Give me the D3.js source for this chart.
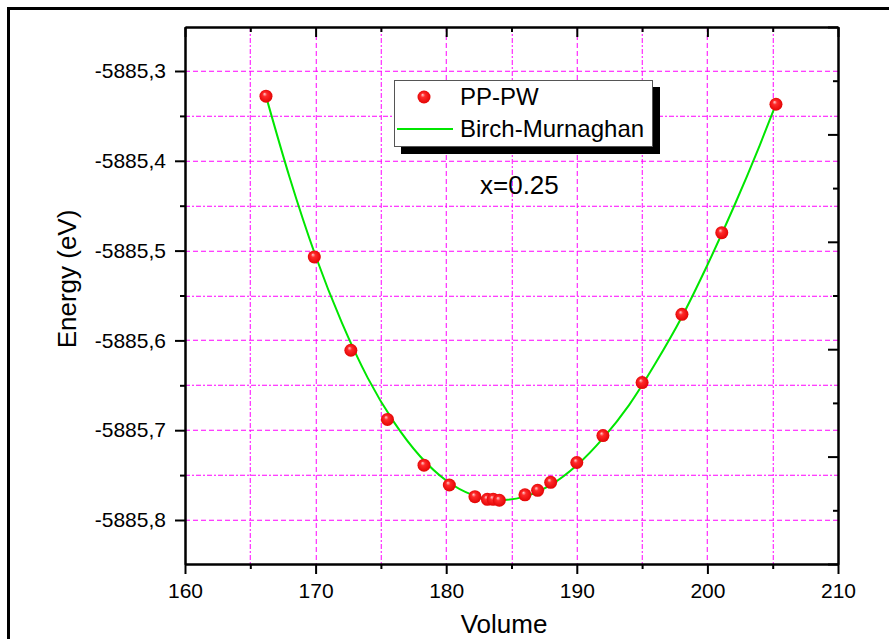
<!DOCTYPE html>
<html>
<head>
<meta charset="utf-8">
<script src="https://cdn.jsdelivr.net/npm/d3@7"></script>
<style>
  body { margin: 0; background: #fff; }
  svg text { font-family: "Liberation Sans", Arial, sans-serif; fill: #000; }
</style>
</head>
<body>
<div id="chart"></div>
<script>
// PP-PW points
var volumes = [166.2, 169.9, 172.7, 175.5, 178.3, 180.24, 182.2, 183.15, 183.6, 184.07, 186.03, 187.0, 188.0, 190.0, 192.0, 195.0, 198.05, 201.1, 205.25];
var energies = [-5885.328, -5885.507, -5885.611, -5885.688, -5885.739, -5885.761, -5885.774, -5885.777, -5885.777, -5885.778, -5885.772, -5885.767, -5885.758, -5885.736, -5885.706, -5885.647, -5885.571, -5885.480, -5885.337];

// Birch-Murnaghan fitted curve
var fitVolumes = [166.2, 168, 170, 172, 174, 176, 178, 180, 182, 184, 186, 188, 190, 192, 194, 196, 198, 200, 202, 204, 205.25];
var fitEnergies = [-5885.328, -5885.418, -5885.506, -5885.580, -5885.642, -5885.691, -5885.729, -5885.756, -5885.772, -5885.778, -5885.774, -5885.761, -5885.739, -5885.709, -5885.672, -5885.626, -5885.575, -5885.516, -5885.452, -5885.383, -5885.337];

var xTicks = [160, 170, 180, 190, 200, 210];
var xMinorTicks = [165, 175, 185, 195, 205];
var yTicks = [-5885.3, -5885.4, -5885.5, -5885.6, -5885.7, -5885.8];
var yMinorTicks = [-5885.35, -5885.45, -5885.55, -5885.65, -5885.75];
var rightTicks = [0, 1, 2, 3, 4, 5];
var rightMinorTicks = [0.5, 1.5, 2.5, 3.5, 4.5];

var seriesNames = ["PP-PW", "Birch-Murnaghan"];
var note = "x=0.25";

var W = 889, H = 639;
var margin = {left: 185, right: 838, top: 27, bottom: 564};

var locale = d3.formatLocale({decimal: ",", thousands: "", grouping: [3], currency: ["", ""], minus: "-"});
var fmtY = locale.format(".1f");

var svg = d3.select("#chart").append("svg")
  .attr("width", W)
  .attr("height", H);

// outer frame
svg.append("rect")
  .attr("x", 8.5).attr("y", 8.5)
  .attr("width", 920).attr("height", 700)
  .attr("fill", "none")
  .attr("stroke", "#000")
  .attr("stroke-width", 3);

var x = d3.scaleLinear().domain([160, 210]).range([margin.left, margin.right]);
var y = d3.scaleLinear().domain([-5885.849, -5885.251]).range([margin.bottom, margin.top]);
var yR = d3.scaleLinear().domain([0, 5]).range([margin.bottom, margin.top]);

// small nudge keeps the 1px magenta lines from landing exactly on a pixel centre
function nudge(v) { return Math.round(v) + 0.25; }

// grid: dashed at major ticks, dash-dot at minor ticks
function gridLines(vals, vertical, dash) {
  svg.append("g").selectAll("line").data(vals).enter().append("line")
    .attr("x1", function(d) { return vertical ? nudge(x(d)) : margin.left; })
    .attr("x2", function(d) { return vertical ? nudge(x(d)) : margin.right; })
    .attr("y1", function(d) { return vertical ? margin.top : nudge(y(d)); })
    .attr("y2", function(d) { return vertical ? margin.bottom : nudge(y(d)); })
    .style("stroke", "#ff00ff")
    .style("stroke-width", 1)
    .style("stroke-dasharray", dash);
}
gridLines(xTicks.slice(1, -1), true, "5,3");
gridLines(xMinorTicks, true, "5,2,2,2");
gridLines(yTicks, false, "5,3");
gridLines(yMinorTicks, false, "5,2,2,2");

// fitted curve
var line = d3.line()
  .x(function(d, i) { return x(fitVolumes[i]); })
  .y(function(d) { return y(d); })
  .curve(d3.curveMonotoneX);

svg.append("path")
  .datum(fitEnergies)
  .attr("d", line)
  .attr("fill", "none")
  .attr("stroke", "#00e600")
  .attr("stroke-width", 2);

var defs = svg.append("defs");
var grad = defs.append("radialGradient")
  .attr("id", "ball")
  .attr("cx", "50%").attr("cy", "50%").attr("r", "55%")
  .attr("fx", "38%").attr("fy", "32%");
grad.append("stop").attr("offset", "0%").attr("stop-color", "#ffd0d0");
grad.append("stop").attr("offset", "30%").attr("stop-color", "#ff2a2a");
grad.append("stop").attr("offset", "100%").attr("stop-color", "#e00000");

svg.append("g").selectAll("circle").data(energies).enter().append("circle")
  .attr("cx", function(d, i) { return x(volumes[i]); })
  .attr("cy", function(d) { return y(d); })
  .attr("r", 6.5)
  .attr("fill", "url(#ball)");

// axes
function styleAxis(g) {
  g.selectAll("path, line").attr("stroke", "#000").attr("stroke-width", 2);
  g.selectAll("text").style("font-size", "21px").attr("fill", "#000");
}

// bottom: ticks outward
svg.append("g")
  .attr("transform", "translate(0," + margin.bottom + ")")
  .call(d3.axisBottom(x).tickValues(xTicks).tickSize(10).tickSizeOuter(0).tickPadding(9).tickFormat(d3.format("d")))
  .call(styleAxis);
svg.append("g")
  .attr("transform", "translate(0," + margin.bottom + ")")
  .call(d3.axisBottom(x).tickValues(xMinorTicks).tickSize(5).tickSizeOuter(0).tickFormat(""))
  .call(styleAxis);

// top: axisBottom so ticks point down into the plot
svg.append("g")
  .attr("transform", "translate(0," + margin.top + ")")
  .call(d3.axisBottom(x).tickValues(xTicks).tickSize(10).tickSizeOuter(0).tickFormat(""))
  .call(styleAxis);
svg.append("g")
  .attr("transform", "translate(0," + margin.top + ")")
  .call(d3.axisBottom(x).tickValues(xMinorTicks).tickSize(5).tickSizeOuter(0).tickFormat(""))
  .call(styleAxis);

// left: ticks outward
svg.append("g")
  .attr("transform", "translate(" + margin.left + ",0)")
  .call(d3.axisLeft(y).tickValues(yTicks).tickSize(10).tickSizeOuter(0).tickPadding(9).tickFormat(fmtY))
  .call(styleAxis);
svg.append("g")
  .attr("transform", "translate(" + margin.left + ",0)")
  .call(d3.axisLeft(y).tickValues(yMinorTicks).tickSize(5).tickSizeOuter(0).tickFormat(""))
  .call(styleAxis);

// right: axisLeft so ticks point into the plot
svg.append("g")
  .attr("transform", "translate(" + margin.right + ",0)")
  .call(d3.axisLeft(yR).tickValues(rightTicks).tickSize(10).tickSizeOuter(0).tickFormat(""))
  .call(styleAxis);
svg.append("g")
  .attr("transform", "translate(" + margin.right + ",0)")
  .call(d3.axisLeft(yR).tickValues(rightMinorTicks).tickSize(5).tickSizeOuter(0).tickFormat(""))
  .call(styleAxis);

// axis titles
svg.append("text")
  .attr("x", 504)
  .attr("y", 633)
  .attr("text-anchor", "middle")
  .style("font-size", "26px")
  .text("Volume");

svg.append("text")
  .attr("transform", "translate(76,279) rotate(-90)")
  .attr("text-anchor", "middle")
  .style("font-size", "26px")
  .text("Energy (eV)");

// legend
var lg = svg.append("g");
lg.append("rect")
  .attr("x", 401).attr("y", 87).attr("width", 259).attr("height", 67)
  .attr("fill", "#000");
lg.append("rect")
  .attr("x", 394.5).attr("y", 80.5).attr("width", 258).attr("height", 66)
  .attr("fill", "#fff").attr("stroke", "#555").attr("stroke-width", 1);
lg.append("circle")
  .attr("cx", 424).attr("cy", 97).attr("r", 6.5)
  .attr("fill", "url(#ball)");
lg.append("line")
  .attr("x1", 397).attr("x2", 453).attr("y1", 129).attr("y2", 129)
  .attr("stroke", "#00e600").attr("stroke-width", 2);
lg.append("text")
  .attr("x", 460).attr("y", 105)
  .style("font-size", "24px")
  .text(seriesNames[0]);
lg.append("text")
  .attr("x", 460).attr("y", 137)
  .style("font-size", "24px")
  .text(seriesNames[1]);

svg.append("text")
  .attr("x", 480).attr("y", 194)
  .style("font-size", "26px")
  .text(note);
</script>
</body>
</html>
